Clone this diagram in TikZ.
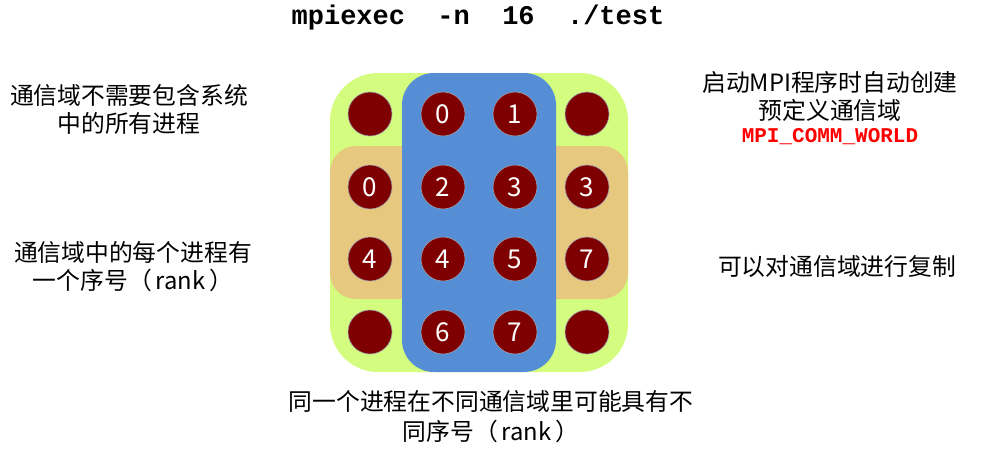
\documentclass[tikz,border=0pt]{standalone}
\usepackage{fontspec}
\setmainfont{Noto Sans CJK SC}
\newfontfamily\cjk{Noto Sans CJK SC}
\newfontfamily\monob{Liberation Mono}
\begin{document}
\begin{tikzpicture}[x=1pt,y=-1pt]
\definecolor{cgreen}{HTML}{D4FC7E}
\definecolor{cblue}{HTML}{558ED5}
\definecolor{corange}{HTML}{E6C97E}
\definecolor{cdred}{HTML}{7F0000}
\definecolor{cring}{HTML}{A0A0B0}
\tikzset{
  proc/.style={circle,fill=cdred,draw=cring,line width=0.6pt,minimum size=44pt,inner sep=0pt,text=white,font=\cjk\fontsize{26}{28}\selectfont},
  lbl/.style={align=center,font=\cjk\fontsize{23.8}{28}\selectfont,inner sep=0pt},
}
\useasboundingbox (0,0) rectangle (989,450);
% regions
\fill[cgreen,rounded corners=48pt] (330,73) rectangle (628,372);
\fill[corange,rounded corners=26pt] (330,146) rectangle (628,299);
\fill[cblue,rounded corners=32pt] (402,73) rectangle (556,372);
% processes
\node[proc] (a1) at (370,114) {};
\node[proc] (a2) at (443,114) {0};
\node[proc] (a3) at (515,114) {1};
\node[proc] (a4) at (587,114) {};
\node[proc] (b1) at (370,187) {0};
\node[proc] (b2) at (443,187) {2};
\node[proc] (b3) at (515,187) {3};
\node[proc] (b4) at (587,187) {3};
\node[proc] (c1) at (370,259) {4};
\node[proc] (c2) at (443,259) {4};
\node[proc] (c3) at (515,259) {5};
\node[proc] (c4) at (587,259) {7};
\node[proc] (d1) at (370,332) {};
\node[proc] (d2) at (443,332) {6};
\node[proc] (d3) at (515,332) {7};
\node[proc] (d4) at (587,332) {};
% texts
\node[inner sep=0pt,font=\monob\bfseries\fontsize{27}{30}\selectfont] (title) at (478,18) {mpiexec\ \ -n\ \ 16\ \ ./test};
\node[lbl] (t1) at (129,109) {通信域不需要包含系统\\中的所有进程};
\node[lbl] (t2) at (133,267) {通信域中的每个进程有\\一个序号（\,rank\,）};
\node[lbl] (t3) at (830,96) {启动MPI程序时自动创建\\预定义通信域};
\node[inner sep=0pt,text=red,font=\monob\bfseries\fontsize{21}{24}\selectfont] (t3b) at (830,137) {MPI\_COMM\_WORLD};
\node[lbl] (t4) at (837,267) {可以对通信域进行复制};
\node[lbl,font=\cjk\fontsize{23.8}{30}\selectfont] (t5) at (491,417) {同一个进程在不同通信域里可能具有不\\同序号（\,rank\,）};
\end{tikzpicture}
\end{document}
